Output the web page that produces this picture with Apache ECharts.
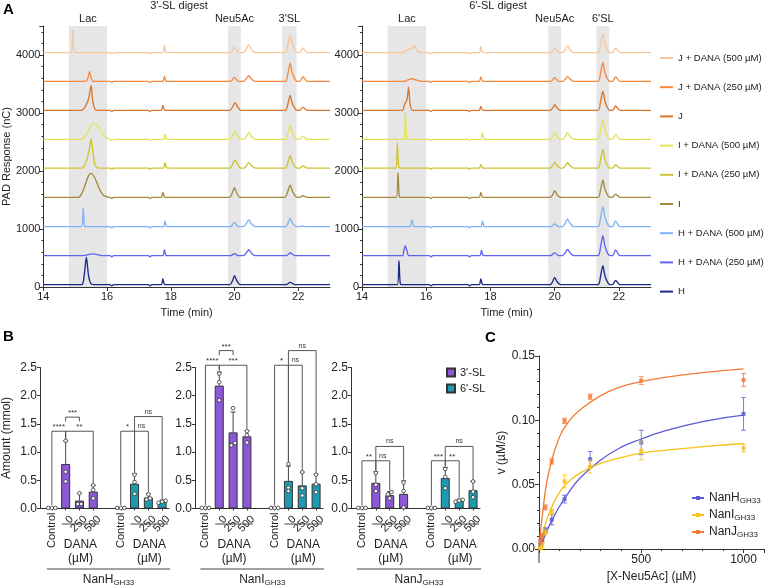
<!DOCTYPE html>
<html><head><meta charset="utf-8">
<script src="https://cdn.jsdelivr.net/npm/echarts@6/dist/echarts.min.js"></script>
<style>html,body{margin:0;padding:0;background:#fff}#c{width:767px;height:585px}</style>
</head><body><div id="c"></div>
<script>
// ================= PANEL A DATA (time min, response above trace baseline nC) =================
const A_names = ['H','H + DANA (250 µM)','H + DANA (500 µM)','I','I + DANA (250 µM)','I + DANA (500 µM)','J','J + DANA (250 µM)','J + DANA (500 µM)'];
const A_baselines = [40,540,1040,1545,2050,2545,3045,3545,4040];
const A_bands3SL = [[14.8,16.0],[19.8,20.2],[21.5,21.95]];
const A_bandLabels3SL = ['Lac','Neu5Ac',"3'SL"];
const A_bands6SL = [[14.8,16.0],[19.8,20.2],[21.3,21.7]];
const A_bandLabels6SL = ['Lac','Neu5Ac',"6'SL"];

const A3_H = [[14,0],[15.2,0],[15.28,150],[15.35,476],[15.42,150],[15.5,15],[15.65,0],[16.1,0],[16.15,-22],[16.2,0],[17.3,0],[17.35,-22],[17.4,0],[17.7,0],[17.75,98],[17.8,8],[17.9,0],[19.86,0],[19.94,70],[20,155],[20.07,70],[20.16,5],[20.3,0],[21.62,0],[21.75,40],[21.9,0],[23,0]];
const A3_H250 = [[14,0],[15.2,0],[15.55,30],[15.9,0],[16.1,0],[16.15,-22],[16.2,0],[17.3,0],[17.35,-22],[17.4,0],[17.75,0],[17.8,103],[17.85,5],[17.95,0],[19.88,0],[20,35],[20.12,0],[20.28,0],[20.37,45],[20.45,103],[20.53,45],[20.65,0],[21.62,0],[21.75,46],[21.9,0],[23,0]];
const A3_H500 = [[14,0],[15.2,0],[15.25,316],[15.3,5],[15.4,0],[16.1,0],[16.15,-22],[16.2,0],[17.3,0],[17.35,-22],[17.4,0],[17.77,0],[17.82,98],[17.87,5],[17.95,0],[19.88,0],[20,75],[20.12,0],[20.28,0],[20.37,50],[20.45,115],[20.53,50],[20.65,0],[21.6,0],[21.68,60],[21.75,143],[21.82,60],[21.95,0],[22.05,0],[22.15,12],[22.25,0],[23,0]];
const A3_I = [[14,0],[15.1,0],[15.25,120],[15.4,350],[15.5,413],[15.62,330],[15.78,120],[15.92,20],[15.96,25],[16.02,0],[16.1,0],[16.15,-22],[16.2,0],[17.3,0],[17.35,-22],[17.4,0],[17.7,0],[17.75,86],[17.8,8],[17.9,0],[19.85,0],[19.93,75],[20,166],[20.07,75],[20.16,5],[20.3,0],[21.58,0],[21.67,95],[21.75,212],[21.83,95],[21.95,5],[22.05,0],[22.15,29],[22.28,0],[23,0]];
const A3_I250 = [[14,0],[15.2,0],[15.35,120],[15.45,350],[15.5,505],[15.55,300],[15.62,60],[15.72,0],[16.1,0],[16.15,-22],[16.2,0],[17.3,0],[17.35,-22],[17.4,0],[17.77,0],[17.82,98],[17.87,5],[17.95,0],[19.86,0],[19.94,65],[20.02,143],[20.1,65],[20.2,0],[20.3,0],[20.38,45],[20.45,98],[20.53,45],[20.65,0],[21.6,0],[21.68,95],[21.75,218],[21.82,95],[21.95,5],[22.05,0],[22.15,40],[22.28,0],[23,0]];
const A3_I500 = [[14,0],[15.2,0],[15.38,110],[15.5,240],[15.6,275],[15.72,230],[15.88,90],[16.02,10],[16.1,0],[16.15,-22],[16.2,0],[17.3,0],[17.35,-22],[17.4,0],[17.77,0],[17.82,92],[17.87,5],[17.95,0],[19.86,0],[19.94,65],[20.02,143],[20.1,65],[20.2,0],[20.3,0],[20.38,55],[20.45,120],[20.53,55],[20.65,0],[21.6,0],[21.68,110],[21.75,247],[21.82,110],[21.95,5],[22.05,0],[22.15,57],[22.28,0],[23,0]];
const A3_J = [[14,0],[15.2,0],[15.32,70],[15.42,200],[15.5,430],[15.55,160],[15.62,20],[15.7,0],[16.1,0],[16.15,-22],[16.2,0],[17.3,0],[17.35,-22],[17.4,0],[17.7,0],[17.75,86],[17.8,8],[17.9,0],[19.86,0],[19.94,60],[20.02,132],[20.1,60],[20.2,0],[21.6,0],[21.68,115],[21.75,258],[21.82,115],[21.95,5],[22.05,0],[22.15,57],[22.28,0],[23,0]];
const A3_J250 = [[14,0],[15.33,0],[15.4,60],[15.45,172],[15.5,60],[15.58,0],[16.1,0],[16.15,-22],[16.2,0],[17.3,0],[17.35,-22],[17.4,0],[17.75,0],[17.8,86],[17.85,5],[17.95,0],[19.88,0],[20,69],[20.12,0],[20.28,0],[20.37,45],[20.45,98],[20.53,45],[20.65,0],[21.6,0],[21.68,140],[21.75,316],[21.82,140],[21.95,5],[22.05,0],[22.15,80],[22.28,0],[23,0]];
const A3_J500 = [[14,0],[14.87,0],[14.92,385],[14.97,5],[15.05,0],[16.1,0],[16.15,-22],[16.2,0],[17.3,0],[17.35,-22],[17.4,0],[17.75,0],[17.8,126],[17.85,5],[17.95,0],[19.88,0],[20,98],[20.12,0],[20.28,0],[20.37,60],[20.45,138],[20.53,60],[20.65,0],[21.6,0],[21.68,140],[21.75,310],[21.82,140],[21.95,5],[22.05,0],[22.15,80],[22.28,0],[23,0]];

const A6_H = [[14,0],[15.1,0],[15.15,413],[15.2,5],[15.3,0],[16.1,0],[16.15,-22],[16.2,0],[17.3,0],[17.35,-22],[17.4,0],[17.65,0],[17.7,98],[17.75,5],[17.85,0],[19.86,0],[19.94,55],[20,126],[20.07,55],[20.16,5],[20.3,0],[21.35,0],[21.43,145],[21.5,327],[21.57,145],[21.7,5],[21.8,0],[21.9,75],[22.03,0],[23,0]];
const A6_H250 = [[14,0],[15.26,0],[15.3,80],[15.35,172],[15.4,80],[15.46,0],[16.1,0],[16.15,-22],[16.2,0],[17.3,0],[17.35,-22],[17.4,0],[17.67,0],[17.72,92],[17.77,5],[17.87,0],[19.88,0],[20,52],[20.12,0],[20.25,0],[20.33,50],[20.4,109],[20.48,50],[20.6,0],[21.35,0],[21.43,155],[21.5,345],[21.57,155],[21.7,5],[21.8,0],[21.9,98],[22.03,0],[23,0]];
const A6_H500 = [[14,0],[15.48,0],[15.55,115],[15.62,5],[15.72,0],[16.1,0],[16.15,-22],[16.2,0],[17.3,0],[17.35,-22],[17.4,0],[17.7,0],[17.75,98],[17.8,5],[17.9,0],[19.88,0],[20,46],[20.12,0],[20.25,0],[20.33,60],[20.4,132],[20.48,60],[20.6,0],[21.35,0],[21.43,155],[21.5,345],[21.57,155],[21.7,5],[21.8,0],[21.9,98],[22.03,0],[23,0]];
const A6_I = [[14,0],[15.07,0],[15.12,425],[15.17,5],[15.27,0],[16.1,0],[16.15,-22],[16.2,0],[17.3,0],[17.35,-22],[17.4,0],[17.65,0],[17.7,86],[17.75,5],[17.85,0],[19.86,0],[19.94,50],[20,115],[20.07,50],[20.16,5],[20.3,0],[21.35,0],[21.43,135],[21.5,299],[21.57,135],[21.7,5],[21.8,0],[21.9,57],[22.03,0],[23,0]];
const A6_I250 = [[14,0],[15.05,0],[15.1,436],[15.15,5],[15.25,0],[16.1,0],[16.15,-22],[16.2,0],[17.3,0],[17.35,-22],[17.4,0],[17.65,0],[17.7,63],[17.75,5],[17.85,0],[19.86,0],[19.94,45],[20,103],[20.07,45],[20.16,5],[20.25,0],[20.33,42],[20.4,92],[20.48,42],[20.6,0],[21.35,0],[21.43,140],[21.5,316],[21.57,140],[21.7,5],[21.8,0],[21.9,57],[22.03,0],[23,0]];
const A6_I500 = [[14,0],[15.3,0],[15.35,465],[15.4,5],[15.5,0],[16.1,0],[16.15,-22],[16.2,0],[17.3,0],[17.35,-22],[17.4,0],[17.7,0],[17.75,115],[17.8,5],[17.9,0],[19.86,0],[19.94,55],[20,120],[20.07,55],[20.16,5],[20.25,0],[20.33,52],[20.4,115],[20.48,52],[20.6,0],[21.35,0],[21.43,155],[21.5,350],[21.57,155],[21.7,5],[21.8,0],[21.9,86],[22.03,0],[23,0]];
const A6_J = [[14,0],[15.25,0],[15.33,110],[15.4,180],[15.45,402],[15.5,100],[15.58,0],[16.1,0],[16.15,-22],[16.2,0],[17.3,0],[17.35,-22],[17.4,0],[17.65,0],[17.7,69],[17.75,5],[17.85,0],[19.86,0],[19.94,45],[20,98],[20.07,45],[20.16,5],[20.3,0],[21.35,0],[21.43,150],[21.5,333],[21.57,150],[21.7,5],[21.8,0],[21.9,75],[22.03,0],[23,0]];
const A6_J250 = [[14,0],[15.3,0],[15.45,30],[15.55,46],[15.65,30],[15.85,0],[16.1,0],[16.15,-22],[16.2,0],[17.3,0],[17.35,-22],[17.4,0],[17.65,0],[17.7,75],[17.75,5],[17.85,0],[19.88,0],[20,63],[20.12,0],[20.25,0],[20.33,40],[20.4,86],[20.48,40],[20.6,0],[21.35,0],[21.43,145],[21.5,327],[21.57,145],[21.7,5],[21.8,0],[21.9,75],[22.03,0],[23,0]];
const A6_J500 = [[14,0],[15.25,0],[15.42,50],[15.55,80],[15.6,90],[15.65,126],[15.7,40],[15.85,0],[16.1,0],[16.15,-22],[16.2,0],[17.3,0],[17.35,-22],[17.4,0],[17.65,0],[17.7,110],[17.75,5],[17.85,0],[19.88,0],[20,86],[20.12,0],[20.25,0],[20.33,52],[20.4,115],[20.48,52],[20.6,0],[21.35,0],[21.43,145],[21.5,327],[21.57,145],[21.7,5],[21.8,0],[21.9,80],[22.03,0],[23,0]];

const traces3SL = [A3_H,A3_H250,A3_H500,A3_I,A3_I250,A3_I500,A3_J,A3_J250,A3_J500];
const traces6SL = [A6_H,A6_H250,A6_H500,A6_I,A6_I250,A6_I500,A6_J,A6_J250,A6_J500];

// ================= PANEL B DATA (mmol) =================
const B_categories = ['Control','0','250','500','','Control','0','250','500'];
const B_H_3SL_mean = [0.01, 0.79, 0.14, 0.30];
const B_H_3SL_sd   = [0.005, 0.41, 0.13, 0.11];
const B_H_3SL_pts  = [[0.01,0.01,0.01],[1.20,0.65,0.48],[0.27,0.08,0.08],[0.41,0.33,0.18]];
const B_H_6SL_mean = [0.01, 0.44, 0.195, 0.12];
const B_H_6SL_sd   = [0.005, 0.18, 0.07, 0.03];
const B_H_6SL_pts  = [[0.01,0.01,0.01],[0.60,0.47,0.26],[0.25,0.18,0.16],[0.14,0.12,0.10]];
const B_I_3SL_mean = [0.01, 2.18, 1.35, 1.28];
const B_I_3SL_sd   = [0.005, 0.24, 0.36, 0.10];
const B_I_3SL_pts  = [[0.01,0.01,0.01],[2.39,2.24,1.92],[1.78,1.16,1.12],[1.37,1.30,1.17]];
const B_I_6SL_mean = [0.01, 0.49, 0.41, 0.44];
const B_I_6SL_sd   = [0.005, 0.26, 0.235, 0.17];
const B_I_6SL_pts  = [[0.01,0.01,0.01],[0.79,0.37,0.31],[0.645,0.36,0.23],[0.60,0.43,0.29]];
const B_J_3SL_mean = [0.01, 0.455, 0.237, 0.26];
const B_J_3SL_sd   = [0.005, 0.195, 0.063, 0.23];
const B_J_3SL_pts  = [[0.01,0.01,0.01],[0.63,0.42,0.31],[0.29,0.25,0.18],[0.46,0.31,0.02]];
const B_J_6SL_mean = [0.01, 0.54, 0.136, 0.325];
const B_J_6SL_sd   = [0.005, 0.19, 0.03, 0.155];
const B_J_6SL_pts  = [[0.01,0.01,0.01],[0.70,0.56,0.36],[0.155,0.14,0.12],[0.48,0.30,0.20]];
// brackets: [fromCat, toCat, level, fromLegBottom, toLegBottom]
const B_H_brackets = [[0,1,1.37,0.06,1.22],[1,3,1.37,1.22,0.43],[1,2,1.62,1.545,1.545],[5,6,1.37,0.06,0.64],[6,7,1.37,0.64,0.29],[6,8,1.63,1.37,0.17]];
const B_H_bracketLabels = ['****','**','***','*','ns','ns'];
const B_I_brackets = [[0,1,2.54,0.06,2.45],[1,3,2.54,2.45,1.41],[1,2,2.80,2.72,2.72],[5,6,2.54,0.06,0.81],[6,7,2.54,0.81,0.67],[6,8,2.80,2.54,0.63]];
const B_I_bracketLabels = ['****','***','***','*','ns','ns'];
const B_J_brackets = [[0,1,0.846,0.06,0.67],[1,2,0.846,0.67,0.32],[1,3,1.10,0.846,0.51],[5,6,0.846,0.06,0.75],[6,7,0.846,0.75,0.19],[6,8,1.10,0.846,0.50]];
const B_J_bracketLabels = ['**','ns','ns','***','**','ns'];

// ================= PANEL C DATA =================
const C_conc = [7.8, 15.6, 31.25, 62.5, 125, 250, 500, 1000];
const C_NanH_v  = [0.005, 0.007, 0.0145, 0.0228, 0.0388, 0.0698, 0.0828, 0.105];
const C_NanH_sd = [0.002, 0.002, 0.002, 0.004, 0.003, 0.006, 0.0095, 0.0127];
const C_NanI_v  = [0.0005, 0.003, 0.013, 0.029, 0.0525, 0.064, 0.0763, 0.0784];
const C_NanI_sd = [0.001, 0.002, 0.002, 0.002, 0.005, 0.005, 0.007, 0.003];
const C_NanJ_v  = [0.006, 0.010, 0.0323, 0.068, 0.0996, 0.1184, 0.1309, 0.1314];
const C_NanJ_sd = [0.002, 0.002, 0.002, 0.002, 0.002, 0.002, 0.003, 0.005];
const C_fitX    = [0, 25, 50, 100, 150, 200, 300, 400, 500, 600, 800, 1000];
const C_NanH_fit = [0, 0.009, 0.018, 0.033, 0.045, 0.055, 0.069, 0.079, 0.0855, 0.091, 0.099, 0.104];
const C_NanI_fit = [0, 0.016, 0.028, 0.044, 0.053, 0.059, 0.0665, 0.071, 0.0745, 0.0765, 0.0795, 0.082];
const C_NanJ_fit = [0, 0.038, 0.061, 0.087, 0.100, 0.108, 0.119, 0.126, 0.130, 0.133, 0.137, 0.140];

// ================= STYLE =================
const FONT = '"Liberation Sans", Arial, sans-serif';
const A_colors = ['#1b2a87','#5f64ee','#7fb2f6','#a58a3c','#cfc330','#e3e356','#d9772e','#f58a3e','#f9c69a'];
const COL3 = '#8c58d8', COL6 = '#1e9ab0';
const C_colors = {NanH:'#5b5bd6', NanI:'#f7c21a', NanJ:'#f47a35'};
const AX = '#333', TXT = '#222';

const aGrids = [{left:40, top:26, width:290, height:261},{left:362, top:26, width:289, height:261}];
const bGrids = [{left:45, top:367.5, width:124, height:141, off:5},{left:198.5, top:367.5, width:124.5, height:141, off:3.5},{left:355, top:367.5, width:125, height:141, off:4}];
const cGrid = {left:539, top:356, width:226, height:193};

const grids = [...aGrids, ...bGrids.map(g=>({left:g.left,top:g.top,width:g.width,height:g.height})), cGrid];

// ---------- axes ----------
const xAxes = [], yAxes = [];
aGrids.forEach((g,k)=>{
  xAxes.push({type:'value', gridIndex:k, min:14, max:23, interval:2,
    axisLine:{show:true,lineStyle:{color:AX}}, axisTick:{show:true,length:4,lineStyle:{color:AX}},
    axisLabel:{fontSize:11,color:TXT,margin:4,showMaxLabel:false,fontFamily:FONT,formatter:v=>String(v)}, splitLine:{show:false},
    name:'Time (min)', nameLocation:'middle', nameGap:20, nameTextStyle:{fontSize:11,color:TXT,fontFamily:FONT}});
  yAxes.push({type:'value', gridIndex:k, min:0, max:4500, interval:1000,
    axisLine:{show:true,lineStyle:{color:AX}}, axisTick:{show:true,length:4,lineStyle:{color:AX}},
    minorTick:{show:true,splitNumber:5,length:2,lineStyle:{color:AX}},
    axisLabel:{fontSize:11,color:TXT,margin:3,showMaxLabel:false,fontFamily:FONT,formatter:v=>String(v)}, splitLine:{show:false}, minorSplitLine:{show:false},
    name: k===0 ? 'PAD Response (nC)' : '', nameLocation:'middle', nameGap:27, nameTextStyle:{fontSize:11,color:TXT,fontFamily:FONT}});
});
bGrids.forEach((g,k)=>{
  const gi = 2+k;
  xAxes.push({type:'category', gridIndex:gi, data:B_categories, position:'bottom',
    axisLine:{show:true,onZero:false,lineStyle:{color:AX}},
    axisTick:{show:true,length:2,alignWithLabel:true,interval:(i,v)=>v!=='',lineStyle:{color:AX}},
    axisLabel:{rotate:90,interval:(i,v)=>v==='Control',fontSize:11,color:TXT,margin:4,fontFamily:FONT}});
  yAxes.push({type:'value', gridIndex:gi, min:0, max:2.5, interval:0.5, offset:g.off,
    axisLine:{show:true,lineStyle:{color:AX}}, axisTick:{show:true,length:3,lineStyle:{color:AX}},
    axisLabel:{fontSize:12,color:TXT,margin:3,formatter:v=>v.toFixed(1),fontFamily:FONT}, splitLine:{show:false},
    name: k===0 ? 'Amount (mmol)' : '', nameLocation:'middle', nameGap:27, nameTextStyle:{fontSize:12,color:TXT,fontFamily:FONT}});
});
xAxes.push({type:'value', gridIndex:5, min:0, max:1100, interval:500,
  axisLine:{show:true,onZero:true,lineStyle:{color:AX}}, axisTick:{show:true,length:4,lineStyle:{color:AX}},
  minorTick:{show:true,splitNumber:5,length:2,lineStyle:{color:AX}},
  axisLabel:{fontSize:12,color:TXT,margin:5,formatter:v=>(v===500||v===1000)?String(v):'',fontFamily:FONT}, splitLine:{show:false}, minorSplitLine:{show:false},
  name:'[X-Neu5Ac] (µM)', nameLocation:'middle', nameGap:22, nameTextStyle:{fontSize:12,color:TXT,fontFamily:FONT}});
yAxes.push({type:'value', gridIndex:5, min:0, max:0.15, interval:0.05,
  axisLine:{show:true,lineStyle:{color:AX}}, axisTick:{show:true,length:4,lineStyle:{color:AX}},
  minorTick:{show:true,splitNumber:5,length:2,lineStyle:{color:AX}},
  axisLabel:{fontSize:12,color:TXT,margin:4,formatter:v=>v.toFixed(2),fontFamily:FONT}, splitLine:{show:false}, minorSplitLine:{show:false},
  name:'v (µM/s)', nameLocation:'middle', nameGap:31, nameTextStyle:{fontSize:12,color:TXT,fontFamily:FONT}});

// ---------- series ----------
const series = [];
[[traces3SL, A_bands3SL, A_bandLabels3SL],[traces6SL, A_bands6SL, A_bandLabels6SL]].forEach(([tr, bands, bl], g)=>{
  tr.forEach((pts, i)=>{
    const s = {type:'line', name:A_names[i], xAxisIndex:g, yAxisIndex:g,
      data: pts.map(p=>[p[0], p[1] + A_baselines[i]]),
      symbol:'none', showSymbol:false, smooth:0.25, silent:true,
      lineStyle:{width:1.35, color:A_colors[i]}, itemStyle:{color:A_colors[i]}, z:3};
    if (i===0) s.markArea = {silent:true, itemStyle:{color:'#e6e6e6'},
      label:{show:true, position:'top', distance:2, color:TXT, fontSize:11, fontFamily:FONT},
      data: bands.map((b,k)=>[{name:bl[k], xAxis:b[0]},{xAxis:b[1]}])};
    series.push(s);
  });
});

function spread(vals, thr){
  const idx = vals.map((v,i)=>i).sort((a,b)=>vals[a]-vals[b]);
  const off = vals.map(()=>0);
  const groups = []; let cur = [idx[0]];
  for (let k=1;k<idx.length;k++){
    if (vals[idx[k]] - vals[cur[cur.length-1]] < thr) cur.push(idx[k]); else { groups.push(cur); cur=[idx[k]]; }
  }
  groups.push(cur);
  groups.forEach(gp=>gp.forEach((i,j)=>{ off[i] = j - (gp.length-1)/2; }));
  return off;
}
const errB = (params, api) => {
  const i = api.value(0), m = api.value(1), s = api.value(2);
  const p0 = api.coord([i,m]), p1 = api.coord([i,m+s]);
  return {type:'group', children:[
    {type:'line', shape:{x1:p0[0],y1:p0[1],x2:p0[0],y2:p1[1]}, style:{stroke:'#444',lineWidth:1}},
    {type:'line', shape:{x1:p0[0]-2.5,y1:p1[1],x2:p0[0]+2.5,y2:p1[1]}, style:{stroke:'#444',lineWidth:1}}]};
};
const dotB = (params, api) => {
  const p = api.coord([api.value(0), api.value(1)]);
  return {type:'circle', shape:{cx:p[0] + api.value(2)*3.6, cy:p[1], r:1.8}, style:{fill:'#fff', stroke:'#333', lineWidth:0.8}};
};
const bracketRender = labels => (params, api) => {
  const f = api.value(0), t = api.value(1), lv = api.value(2), b1 = api.value(3), b2 = api.value(4);
  const pA = api.coord([f, lv]), pB = api.coord([t, lv]);
  const yb1 = api.coord([f, b1])[1], yb2 = api.coord([t, b2])[1];
  const lab = labels[params.dataIndex];
  return {type:'group', children:[
    {type:'polyline', shape:{points:[[pA[0],yb1],[pA[0],pA[1]],[pB[0],pB[1]],[pB[0],yb2]]}, style:{stroke:'#555',lineWidth:1,fill:null}},
    {type:'text', x:(pA[0]+pB[0])/2, y:pA[1] - (lab==='ns'?1.5:0), style:{text:lab, fontSize: lab==='ns'?7:8, fill:'#333', align:'center', verticalAlign:'bottom', fontFamily:FONT}}]};
};
const bSets = [
  [B_H_3SL_mean,B_H_3SL_sd,B_H_3SL_pts,B_H_6SL_mean,B_H_6SL_sd,B_H_6SL_pts,B_H_brackets,B_H_bracketLabels],
  [B_I_3SL_mean,B_I_3SL_sd,B_I_3SL_pts,B_I_6SL_mean,B_I_6SL_sd,B_I_6SL_pts,B_I_brackets,B_I_bracketLabels],
  [B_J_3SL_mean,B_J_3SL_sd,B_J_3SL_pts,B_J_6SL_mean,B_J_6SL_sd,B_J_6SL_pts,B_J_brackets,B_J_bracketLabels]];
bSets.forEach((set, k)=>{
  const [m3, s3, p3, m6, s6, p6, br, brl] = set;
  const xi = 2 + k, yi = 2 + k;
  const pad = ['-','-','-','-','-'];
  series.push({type:'bar', name:"3'-SL", xAxisIndex:xi, yAxisIndex:yi, data: m3.concat(pad), barWidth:9, barGap:'-100%',
    itemStyle:{color:COL3, borderColor:'#333', borderWidth:1}, z:2, silent:true});
  series.push({type:'bar', name:"6'-SL", xAxisIndex:xi, yAxisIndex:yi, data: pad.concat(m6), barWidth:9, barGap:'-100%',
    itemStyle:{color:COL6, borderColor:'#333', borderWidth:1}, z:2, silent:true});
  const err = m3.map((v,i)=>[i, v, s3[i]]).concat(m6.map((v,i)=>[i+5, v, s6[i]]));
  series.push({type:'custom', xAxisIndex:xi, yAxisIndex:yi, data: err, renderItem: errB, z:3, clip:false, silent:true});
  const dots = [];
  p3.forEach((arr,i)=>{ const o = spread(arr, 0.06); arr.forEach((v,j)=>dots.push([i, v, o[j]])); });
  p6.forEach((arr,i)=>{ const o = spread(arr, 0.06); arr.forEach((v,j)=>dots.push([i+5, v, o[j]])); });
  series.push({type:'custom', xAxisIndex:xi, yAxisIndex:yi, data: dots, renderItem: dotB, z:4, clip:false, silent:true});
  series.push({type:'custom', xAxisIndex:xi, yAxisIndex:yi, data: br, renderItem: bracketRender(brl), z:3, clip:false, silent:true});
});

const errC = color => (params, api) => {
  const x = api.value(0), m = api.value(1), s = api.value(2);
  const p = api.coord([x,m]), t = api.coord([x,m+s]), b = api.coord([x,m-s]);
  return {type:'group', children:[
    {type:'line', shape:{x1:p[0],y1:t[1],x2:p[0],y2:b[1]}, style:{stroke:color,lineWidth:1,opacity:0.8}},
    {type:'line', shape:{x1:p[0]-2.5,y1:t[1],x2:p[0]+2.5,y2:t[1]}, style:{stroke:color,lineWidth:1,opacity:0.8}},
    {type:'line', shape:{x1:p[0]-2.5,y1:b[1],x2:p[0]+2.5,y2:b[1]}, style:{stroke:color,lineWidth:1,opacity:0.8}},
    {type:'rect', shape:{x:p[0]-2,y:p[1]-2,width:4,height:4}, style:{fill:color,opacity:0.85}}]};
};
const C_X = 5, C_Y = 5;
[['NanH',C_NanH_fit],['NanI',C_NanI_fit],['NanJ',C_NanJ_fit]].forEach(([n, fit])=>{
  series.push({type:'line', name:n, xAxisIndex:C_X, yAxisIndex:C_Y, data: C_fitX.map((x,i)=>[x, fit[i]]),
    smooth:true, symbol:'rect', symbolSize:4, showSymbol:false, lineStyle:{width:1.3, color:C_colors[n]}, itemStyle:{color:C_colors[n]}, z:3, silent:true});
});
[['NanH',C_NanH_v,C_NanH_sd],['NanI',C_NanI_v,C_NanI_sd],['NanJ',C_NanJ_v,C_NanJ_sd]].forEach(([n, v, sd])=>{
  series.push({type:'custom', name:n, xAxisIndex:C_X, yAxisIndex:C_Y, data: C_conc.map((x,i)=>[x, v[i], sd[i]]),
    renderItem: errC(C_colors[n]), itemStyle:{color:C_colors[n]}, z:4, clip:false, silent:true});
});

const option = {
  animation:false,
  textStyle:{fontFamily:FONT},
  grid: grids,
  xAxis: xAxes, yAxis: yAxes,
  legend: [
    {data: A_names.slice().reverse(), left:655, top:46, orient:'vertical', icon:'rect', itemWidth:13, itemHeight:2, itemGap:15.2,
      textStyle:{fontSize:9.6, color:TXT, lineHeight:14, fontFamily:FONT}, selectedMode:false},
    {data:["3'-SL","6'-SL"], left:441, top:362, orient:'vertical', icon:'rect', itemWidth:8, itemHeight:8, itemGap:5,
      textStyle:{fontSize:11, color:TXT, fontFamily:FONT}, selectedMode:false},
    {data:['NanH','NanI','NanJ'], left:686, top:486, orient:'vertical', itemWidth:12, itemHeight:5, itemGap:3, selectedMode:false,
      formatter: n => '{n|' + n + '}{s|GH33}',
      textStyle:{fontSize:12, color:TXT, lineHeight:14, fontFamily:FONT,
        rich:{n:{fontSize:12, color:TXT, lineHeight:14, fontFamily:FONT}, s:{fontSize:8, color:TXT, lineHeight:6, verticalAlign:'bottom', fontFamily:FONT}}}}
  ],
  series
};

const chart = echarts.init(document.getElementById('c'), null, {renderer:'canvas'});
chart.setOption(option);

// ---------- annotations ----------
const g = [];
const txt = (x, y, text, size, extra) => ({type:'text', x, y, style:Object.assign({text, fontSize:size, fill:TXT, fontFamily:FONT, align:'center', verticalAlign:'middle'}, extra||{})});
g.push(txt(3, 10, 'A', 15, {align:'left', fontWeight:'bold', fill:'#000'}));
g.push(txt(3, 337, 'B', 15, {align:'left', fontWeight:'bold', fill:'#000'}));
g.push(txt(485, 337.5, 'C', 15, {align:'left', fontWeight:'bold', fill:'#000'}));
g.push(txt(179, 6, "3'-SL digest", 11));
g.push(txt(498, 6, "6'-SL digest", 11));
const ln = (x1,y1,x2,y2) => ({type:'line', shape:{x1,y1,x2,y2}, style:{stroke:'#444', lineWidth:1}});
const enzNames = ['NanH','NanI','NanJ'];
bGrids.forEach((bg, k)=>{
  const xi = 2 + k, yi = 2 + k;
  const cx = i => chart.convertToPixel({xAxisIndex:xi}, i);
  const y0 = chart.convertToPixel({yAxisIndex:yi}, 0);
  g.push({type:'line', shape:{x1:bg.left-bg.off, y1:y0, x2:bg.left, y2:y0}, style:{stroke:AX, lineWidth:1}});
  // dose tick labels (rotated 45°), taken from the category list
  B_categories.forEach((c, i)=>{
    if (c === '' || c === 'Control') return;
    g.push({type:'text', x:cx(i)+6, y:y0+9, rotation:Math.PI/4,
      style:{text:c, fontSize:11, fill:TXT, fontFamily:FONT, align:'right', verticalAlign:'middle'}});
  });
  [[1,3],[6,8]].forEach(([a,b])=>{
    g.push(ln(cx(a)-4, y0+15.5, cx(b)+6, y0+15.5));
    g.push(txt(cx(a+1)+1, y0+36.5, 'DANA', 12));
    g.push(txt(cx(a+1)+1, y0+50.5, '(µM)', 12));
  });
  const l0 = cx(0)-5, l1 = cx(8)+8;
  g.push(ln(l0, y0+60.5, l1, y0+60.5));
  g.push({type:'text', x:(l0+l1)/2, y:y0+71, style:{text:'{n|'+enzNames[k]+'}{s|GH33}', align:'center', verticalAlign:'middle', fontFamily:FONT,
    rich:{n:{fontSize:12, fill:TXT, lineHeight:14, fontFamily:FONT}, s:{fontSize:8, fill:TXT, lineHeight:6, verticalAlign:'bottom', fontFamily:FONT}}}});
});
g.push({type:'line', shape:{x1:cGrid.left, y1:cGrid.top+cGrid.height, x2:cGrid.left, y2:cGrid.top+cGrid.height+14}, style:{stroke:AX, lineWidth:1}});
chart.setOption({graphic: g});
</script>
</body></html>
